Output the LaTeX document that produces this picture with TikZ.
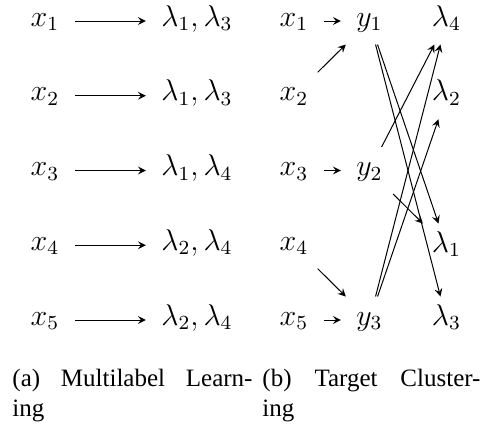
\documentclass[tikz,border=0pt]{standalone}
\usepackage[no-math]{fontspec}
\newfontfamily\timesfont{Liberation Serif}

\begin{document}
\begin{tikzpicture}[
    x=0.4pt, y=-0.4pt,
    var/.style={font=\large, anchor=base, inner xsep=6pt, inner ysep=2.2pt,
        text height=9pt, text depth=5pt},
    arr/.style={-stealth, line width=0.4pt},
    subcap/.style={font=\timesfont, anchor=base west, inner sep=0pt, align=left}
]
\useasboundingbox (0,0) rectangle (481,428);

% Left: multilabel learning
\node[var] (a1) at (45,26) {\(x_1\)};
\node[var] (a2) at (45,100.75) {\(x_2\)};
\node[var] (a3) at (45,175.5) {\(x_3\)};
\node[var] (a4) at (45,250.25) {\(x_4\)};
\node[var] (a5) at (45,325) {\(x_5\)};

\node[var] (la1) at (197,26) {\(\lambda_1, \lambda_3\)};
\node[var] (la2) at (197,100.75) {\(\lambda_1, \lambda_3\)};
\node[var] (la3) at (197,175.5) {\(\lambda_1, \lambda_4\)};
\node[var] (la4) at (197,250.25) {\(\lambda_2, \lambda_4\)};
\node[var] (la5) at (197,325) {\(\lambda_2, \lambda_4\)};

\draw[arr] (a1) -- (la1);
\draw[arr] (a2) -- (la2);
\draw[arr] (a3) -- (la3);
\draw[arr] (a4) -- (la4);
\draw[arr] (a5) -- (la5);

% Right: target clustering
\node[var] (b1) at (294,26) {\(x_1\)};
\node[var] (b2) at (294,100.75) {\(x_2\)};
\node[var] (b3) at (294,175.5) {\(x_3\)};
\node[var] (b4) at (294,250.25) {\(x_4\)};
\node[var] (b5) at (294,325) {\(x_5\)};

\node[var] (y1) at (369.5,26) {\(y_1\)};
\node[var] (y2) at (369.5,175.5) {\(y_2\)};
\node[var] (y3) at (369.5,325) {\(y_3\)};

\node[var] (l4) at (446.5,26) {\(\lambda_4\)};
\node[var] (l2) at (446.5,100.75) {\(\lambda_2\)};
\node[var] (l1) at (446.5,252) {\(\lambda_1\)};
\node[var] (l3) at (446.5,325) {\(\lambda_3\)};

\draw[arr] (b1) -- (y1);
\draw[arr] (b2) -- (y1);
\draw[arr] (b3) -- (y2);
\draw[arr] (b4) -- (y3);
\draw[arr] (b5) -- (y3);

\draw[arr] (y1) -- (l1);
\draw[arr] (y1) -- (l3);
\draw[arr] (y2) -- (l1);
\draw[arr] (y2) -- (l4);
\draw[arr] (y3) -- (l2);
\draw[arr] (y3) -- (l4);

% captions
\node[subcap] (capa) at (12,416) {\makebox[96pt][s]{(a) Multilabel Learn-}\\ing};
\node[subcap] (capb) at (262,416) {\makebox[87.2pt][s]{(b) Target Cluster-}\\ing};

\end{tikzpicture}
\end{document}
